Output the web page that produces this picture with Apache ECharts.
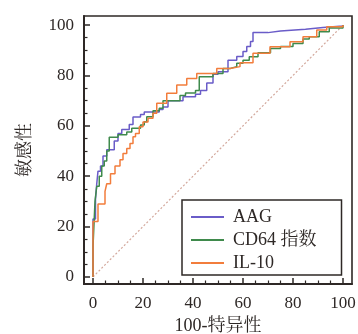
<!DOCTYPE html>
<html>
<head>
<meta charset="utf-8">
<script src="https://cdn.jsdelivr.net/npm/echarts@6/dist/echarts.min.js"></script>
<style>html,body{margin:0;padding:0;background:#fff;}#c{width:358px;height:334px;}</style>
</head>
<body>
<div id="c"></div>
<script>
// ---- data ----
const seriesNames = ['AAG', 'CD64 指数', 'IL-10'];
const aagX = [0, 0, 1, 1.5, 2, 3, 4, 5.5, 8.5, 10, 11.5, 14.5, 16, 19, 20.5, 26.5, 28, 30, 36, 41, 43, 45.5, 48, 50, 54, 57.5, 60, 61.5, 63, 64, 70, 75, 85, 92, 100];
const aagY = [0, 23, 31, 37, 42, 44, 48, 50.5, 54, 57, 58.5, 60.5, 63.5, 64.5, 65.5, 66.5, 67.5, 70, 71.5, 72.5, 74, 77, 80.5, 81.5, 86, 87.5, 89.5, 91.5, 93.5, 97, 97.6, 98.3, 99, 99.6, 100];
const cd64X = [0, 0, 0.8, 1.5, 2.5, 3.5, 4.5, 5.5, 6.5, 10, 13.5, 15.5, 19, 20.5, 21.5, 24, 26.5, 28, 34.8, 37, 41, 42.5, 48, 52, 55, 57.5, 60, 62.5, 66, 71, 75, 80, 84, 86.5, 90.5, 94.5, 100];
const cd64Y = [0, 12, 30, 36, 40, 44, 46, 50, 55.5, 56.5, 57.5, 59, 60.3, 61.6, 63.6, 66, 67, 70, 72, 73, 74, 79.5, 80.8, 82.8, 83.5, 84.8, 86, 87.4, 89, 90.7, 91.5, 92.7, 94.5, 95.4, 97.3, 98.8, 100];
const il10X = [0, 0, 2, 4.8, 5.5, 7, 8.8, 10.8, 12, 13.5, 14.8, 16, 17, 18.5, 20, 22, 24, 25.5, 29.5, 33.5, 37.5, 41.5, 49.5, 54.8, 58.8, 64, 70.8, 78.8, 84, 89.5, 93.5, 100];
const il10Y = [0, 22, 29, 34, 37, 41, 44, 46.5, 49, 51, 53, 55.7, 57, 59.6, 61.5, 63, 65, 69, 72.9, 76.2, 78.8, 80.8, 82.8, 83.5, 85, 88.8, 91.4, 93.4, 95.4, 98, 99.3, 100];
const refX = [0, 100];
const refY = [0, 100];
const majorTicks = [0, 20, 40, 60, 80, 100];
const minorTicks = [5, 10, 15, 25, 30, 35, 45, 50, 55, 65, 70, 75, 85, 90, 95];
const xName = '100-特异性';
const yName = '敏感性';

const pair = (xs, ys) => xs.map((x, i) => [x, ys[i]]);
const ink = '#2e2826';
const serif = '"Liberation Serif", "Times New Roman", "Noto Serif CJK SC", "Noto Sans CJK SC", serif';
const colors = ['#6a5cc8', '#3f8a4c', '#f27d3c'];

const xMin = -3.6, xMax = 103.6, yMin = -2.8, yMax = 103.6;

function mainAxis(isX) {
  return {
    type: 'value', min: isX ? xMin : yMin, max: isX ? xMax : yMax,
    position: isX ? 'bottom' : 'left',
    name: isX ? xName : yName, nameLocation: 'middle',
    nameGap: isX ? 32 : 50,
    nameTextStyle: { fontFamily: serif, fontSize: 18, color: ink },
    axisLine: { show: true, onZero: false, lineStyle: { color: ink, width: 2 } },
    axisTick: { show: true, inside: true, length: 6, customValues: majorTicks, lineStyle: { color: ink, width: 1.5 } },
    axisLabel: { show: true, customValues: majorTicks, margin: isX ? 11 : 10, fontFamily: serif, fontSize: 17, color: ink },
    splitLine: { show: false }
  };
}
function minorAxis(isX) {
  return {
    type: 'value', min: isX ? xMin : yMin, max: isX ? xMax : yMax,
    position: isX ? 'bottom' : 'left',
    axisLine: { show: false, onZero: false },
    axisTick: { show: true, inside: true, length: 3.5, customValues: minorTicks, lineStyle: { color: ink, width: 1.2 } },
    axisLabel: { show: false },
    splitLine: { show: false }
  };
}

const chart = echarts.init(document.getElementById('c'), null, { renderer: 'canvas' });
const lineSeries = [pair(aagX, aagY), pair(cd64X, cd64Y), pair(il10X, il10Y)].map((d, i) => ({
  name: seriesNames[i], type: 'line', step: 'end', data: d, symbol: 'none',
  lineStyle: { color: colors[i], width: 1.5 }, itemStyle: { color: colors[i] },
  z: 3 + i
}));
chart.setOption({
  animation: false,
  backgroundColor: '#fff',
  grid: { left: 84, right: 6, top: 16, bottom: 50, show: true, borderColor: ink, borderWidth: 1.6, backgroundColor: 'transparent',
          containLabel: false, outerBoundsMode: 'none' },
  xAxis: [mainAxis(true), minorAxis(true)],
  yAxis: [mainAxis(false), minorAxis(false)],
  legend: {
    data: seriesNames, orient: 'vertical', left: 182, top: 200,
    icon: 'rect',
    padding: [8, 25, 3, 9], itemGap: 5, itemWidth: 33, itemHeight: 2,
    borderColor: ink, borderWidth: 1.5, backgroundColor: '#fff',
    textStyle: { fontFamily: serif, fontSize: 18, color: ink, padding: [0, 0, 0, 4] }
  },
  series: [
    { name: 'ref', type: 'line', data: pair(refX, refY), symbol: 'none', silent: true,
      lineStyle: { color: '#d3a89c', width: 1.2, type: [2, 2] }, z: 2 }
  ].concat(lineSeries)
});
</script>
</body>
</html>
